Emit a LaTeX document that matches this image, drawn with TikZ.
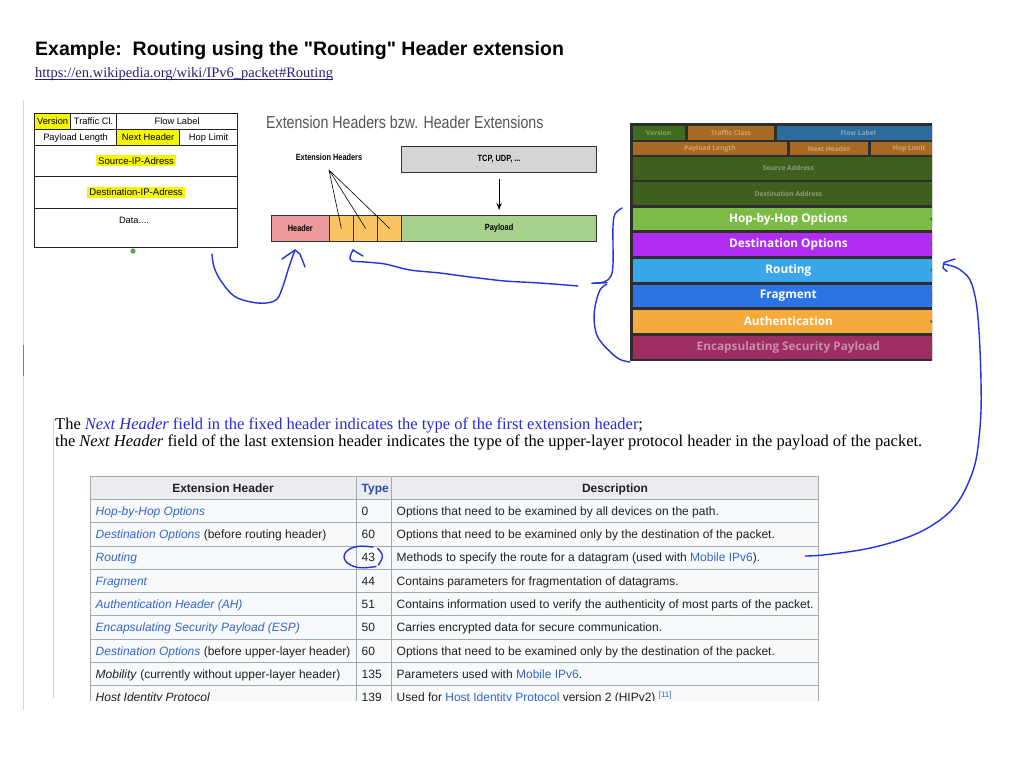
\documentclass[tikz,border=0pt]{standalone}
\usepackage{fontspec}
\setmainfont{Liberation Serif}
\setsansfont{Liberation Sans}
\newfontfamily\headfont{Liberation Sans}
\newfontfamily\narrowfont[FakeStretch=0.82]{Liberation Sans}
\newfontfamily\stackfont{Open Sans}
\usepackage{xcolor}
\usetikzlibrary{arrows.meta,calc}
\definecolor{penblue}{HTML}{2233DD}
\definecolor{urlnavy}{HTML}{25256E}
\definecolor{boxline}{HTML}{222222}
\definecolor{hlyellow}{HTML}{F6F600}
\definecolor{titlegray}{HTML}{555555}
\definecolor{segline}{HTML}{333333}
\definecolor{tcpgray}{HTML}{D5D5D5}
\definecolor{hdrpink}{HTML}{EE9A9A}
\definecolor{extorange}{HTML}{F8C463}
\definecolor{paygreen}{HTML}{A9D18E}
\definecolor{stackbg}{HTML}{2E2E2E}
\definecolor{vergreen}{HTML}{416C1F}
\definecolor{vertext}{HTML}{86A06A}
\definecolor{tcbrown}{HTML}{A86A23}
\definecolor{tctext}{HTML}{D2A46C}
\definecolor{flblue}{HTML}{2B6C9C}
\definecolor{fltext}{HTML}{80A8C8}
\definecolor{addrgreen}{HTML}{3F5F1F}
\definecolor{addrtext}{HTML}{8C9C74}
\definecolor{hbhgreen}{HTML}{7DBB47}
\definecolor{dopurple}{HTML}{B02CF2}
\definecolor{rtblue}{HTML}{3AA6EA}
\definecolor{frblue}{HTML}{2C74E4}
\definecolor{auorange}{HTML}{F7AA3C}
\definecolor{espmaroon}{HTML}{9C2E62}
\definecolor{esptext}{HTML}{C98DA8}
\definecolor{dotgreen}{HTML}{2E8B2E}
\definecolor{bodyblue}{HTML}{2A2AD4}
\definecolor{wikilink}{HTML}{3366CC}
\definecolor{typeblue}{HTML}{2A4FA8}
\definecolor{tblline}{HTML}{A2A9B1}
\definecolor{tblhead}{HTML}{EAECF0}
\definecolor{tblbody}{HTML}{F8F9FA}
\definecolor{tbltext}{HTML}{202122}
\definecolor{edgegray}{HTML}{D4D4D4}
\newcommand\fsz[1]{\fontsize{#1}{#1}\selectfont}
\newcommand\wl[1]{\textcolor{wikilink}{\textit{#1}}}
\newcommand\wu[1]{\textcolor{wikilink}{#1}}
\tikzset{every node/.append style={font=\sffamily}}

\begin{document}
\begin{tikzpicture}[x=1pt,y=-1pt,>=Stealth,
  fld/.style={draw=boxline,line width=1.2pt,anchor=north west,inner sep=0pt,font=\sffamily\fsz{9.3}},
  seg/.style={draw=segline,line width=1.2pt,anchor=north west,inner sep=0pt,minimum height=25.7,font=\narrowfont\bfseries\fsz{9}},
  stkfld/.style={anchor=north west,inner sep=0pt,font=\stackfont\bfseries\fsz{6.7}},
  stkrow/.style={anchor=north west,inner sep=0pt,minimum width=311,text=white,font=\stackfont\bfseries\fsz{11.8}},
  tbl/.style={inner sep=0pt,anchor=base west,text=tbltext,font=\sffamily\fsz{12}},
  tblhd/.style={inner sep=0pt,anchor=base,text=tbltext,font=\sffamily\bfseries\fsz{12}},
  pen/.style={draw=penblue,line width=1.4pt,line cap=round,line join=round},
  bodytext/.style={inner sep=0pt,anchor=base west,text=black,font=\rmfamily\fsz{16.5}}]
  \fill[white] (0,0) rectangle (1024,768);
  \useasboundingbox (0,0) rectangle (1024,768);
  \draw[edgegray,line width=0.8pt] (23.5,100) -- (23.5,710);
  \draw[gray,line width=0.8pt] (23.5,345) -- (23.5,376);
  \draw[edgegray,line width=0.8pt] (58,419) -- (53,419) -- (53,698);

  \node[anchor=base west,inner sep=0pt,font=\headfont\bfseries\fsz{19.5}] (title) at (35,56)
    {Example:\ \ Routing using the "Routing" Header extension};
  \node[anchor=base west,inner sep=0pt,text=urlnavy,font=\rmfamily\fsz{14.5}] (url) at (35,77.5)
    {https://en.wikipedia.org/wiki/IPv6\_packet\#Routing};
  \draw[urlnavy,line width=0.8pt] ($(url.base west)+(0,2)$) -- ($(url.base east)+(0,2)$);

  \node[fld,fill=hlyellow,minimum width=36,minimum height=16] (ver) at (34,113) {Version};
  \node[fld,minimum width=46,minimum height=16] (tcl) at (70,113) {Traffic Cl.};
  \node[fld,minimum width=121,minimum height=16] (flow) at (116,113) {Flow Label};
  \node[fld,minimum width=82,minimum height=16] (plen) at (34,129) {Payload Length};
  \node[fld,fill=hlyellow,minimum width=63,minimum height=16] (nxt) at (116,129) {Next Header};
  \node[fld,minimum width=58,minimum height=16] (hlim) at (179,129) {Hop Limit};
  \node[fld,minimum width=203,minimum height=30.5,font=\sffamily\fsz{9.6}] (src) at (34,145)
    {\setlength{\fboxsep}{2pt}\colorbox{hlyellow}{Source-IP-Adress}};
  \node[fld,minimum width=203,minimum height=32,font=\sffamily\fsz{9.6}] (dst) at (34,175.5)
    {\setlength{\fboxsep}{2pt}\colorbox{hlyellow}{Destination-IP-Adress}};
  \node[fld,minimum width=203,minimum height=39.5] (data) at (34,207.5) {};
  \node[font=\sffamily\fsz{9.3}] (datatxt) at (134,220) {Data....};
  \fill[dotgreen!80] (133,251) circle (2.6);

  \node[anchor=west,inner sep=0pt,text=titlegray,font=\narrowfont\fsz{17.3}] (exttitle) at (266,122)
    {Extension Headers bzw. Header Extensions};
  \node[font=\narrowfont\bfseries\fsz{9}] (extlbl) at (329,157) {Extension Headers};
  \node[seg,fill=tcpgray,minimum width=195] (tcp) at (401,146) {TCP, UDP, ...};
  \node[seg,fill=hdrpink,minimum width=57.5] (hdr) at (271,215) {Header};
  \node[seg,fill=extorange,minimum width=24.5] (ext1) at (328.5,215) {};
  \node[seg,fill=extorange,minimum width=24] (ext2) at (353,215) {};
  \node[seg,fill=extorange,minimum width=24] (ext3) at (377,215) {};
  \node[seg,fill=paygreen,minimum width=195] (pay) at (401,215) {Payload};
  \draw[->,line width=0.9pt,shorten <=6pt,shorten >=5pt] (tcp.south) -- (pay.north);
  \coordinate (fan) at (329,170);
  \foreach \e in {ext1,ext2,ext3}
    \draw[line width=0.6pt] (fan) -- (\e.center);

  \begin{scope}
    \clip (628,120) rectangle (932,364);
    \fill[stackbg] (630,123) rectangle (950,361);
    \node[stkfld,fill=vergreen,text=vertext,minimum width=51.6,minimum height=14.3] (sver) at (632.7,125.7) {Version};
    \node[stkfld,fill=tcbrown,text=tctext,minimum width=86.3,minimum height=14.3] (stc) at (687.7,125.7) {Traffic Class};
    \node[stkfld,fill=flblue,text=fltext,minimum width=162.6,minimum height=14.3] (sfl) at (776.7,125.7) {Flow Label};
    \node[stkfld,fill=tcbrown,text=tctext,minimum width=154,minimum height=13.3] (spl) at (632.7,141.7) {Payload Length};
    \node[stkfld,fill=tcbrown,text=tctext,minimum width=77.7,minimum height=13.3] (snh) at (790,141.7) {Next Header};
    \node[stkfld,fill=tcbrown,text=tctext,minimum width=76.6,minimum height=13.3] (shl) at (870.7,141.7) {Hop Limit};
    \node[stkfld,fill=addrgreen,text=addrtext,minimum width=311,minimum height=22.6] (ssrc) at (632.7,156.7) {Source Address};
    \node[stkfld,fill=addrgreen,text=addrtext,minimum width=311,minimum height=23.3] (sdst) at (632.7,181.7) {Destination Address};
    \node[stkrow,fill=hbhgreen,minimum height=22.3] (shbh) at (632.7,207.7) {Hop-by-Hop Options};
    \node[stkrow,fill=dopurple,minimum height=23.7] (sdo) at (632.7,232.3) {Destination Options};
    \node[stkrow,fill=rtblue,minimum height=23.4] (srt) at (632.7,258.3) {Routing};
    \node[stkrow,fill=frblue,minimum height=22.4] (sfr) at (632.7,284.3) {Fragment};
    \node[stkrow,fill=auorange,minimum height=22.7] (sau) at (632.7,310) {Authentication};
    \node[stkrow,fill=espmaroon,text=esptext,minimum height=22.6] (sesp) at (632.7,335.7) {Encapsulating Security Payload};
    \foreach \n in {shbh,sdo,srt,sfr,sau,sesp}
      \fill[dotgreen] (\n.center -| 931.5,0) circle (1.7);
  \end{scope}

  \node[bodytext] (line1) at (55,429)
    {The \textcolor{bodyblue}{\textit{Next Header} field in the fixed header indicates the type of the first extension header};};
  \node[bodytext] (line2) at (55,446.5)
    {the \textit{Next Header} field of the last extension header indicates the type of the upper-layer protocol header in the payload of the packet.};

  \begin{scope}
    \clip (85,470) rectangle (830,700);
    \fill[tblhead] (90,476) rectangle (818.3,499.3);
    \fill[tblbody] (90,499.3) rectangle (818.3,712);
    \foreach \i in {0,...,10}
      \draw[tblline,line width=0.8pt] (90,476+23.3*\i) -- (818.3,476+23.3*\i);
    \foreach \x in {90,356.7,391.7,818.3}
      \draw[tblline,line width=0.8pt] (\x,476) -- (\x,712);
    \node[tblhd] (thname) at (223,492.2) {Extension Header};
    \node[tblhd,anchor=base west,text=typeblue] (thtype) at (361.5,492.2) {Type};
    \node[tblhd] (thdesc) at (615,492.2) {Description};
    \foreach \nm/\ty/\ds [count=\i] in {
      {\wl{Hop-by-Hop Options}}/0/{Options that need to be examined by all devices on the path.},
      {\wl{Destination Options} (before routing header)}/60/{Options that need to be examined only by the destination of the packet.},
      {\wl{Routing}}/43/{Methods to specify the route for a datagram (used with \wu{Mobile IPv6}).},
      {\wl{Fragment}}/44/{Contains parameters for fragmentation of datagrams.},
      {\wl{Authentication Header (AH)}}/51/{Contains information used to verify the authenticity of most parts of the packet.},
      {\wl{Encapsulating Security Payload (ESP)}}/50/{Carries encrypted data for secure communication.},
      {\wl{Destination Options} (before upper-layer header)}/60/{Options that need to be examined only by the destination of the packet.},
      {\textit{Mobility} (currently without upper-layer header)}/135/{Parameters used with \wu{Mobile IPv6}.},
      {\textit{Host Identity Protocol}}/139/{Used for \wu{Host Identity Protocol} version 2 (HIPv2) \wu{\textsuperscript{[11]}}}} {
      \node[tbl] (tname\i) at (95.5,491.9+23.3*\i) {\nm};
      \node[tbl] (ttype\i) at (361.5,491.9+23.3*\i) {\ty};
      \node[tbl] (tdesc\i) at (396.5,491.9+23.3*\i) {\ds};
    }
  \end{scope}

  \coordinate (lbstart) at (212,254);
  \coordinate (hdrtip) at (295,250);
  \draw[pen] plot[smooth,tension=0.6] coordinates {(lbstart) (214,267) (221,281) (234,296) (251,302) (266,303) (277,299) (283,286) (289,267) (hdrtip)};
  \draw[pen] (282,259) -- (hdrtip) -- (300,254) -- (305,267);

  \coordinate (brmid) at (578,286);
  \coordinate (exttip) at (353,250);
  \draw[pen] plot[smooth,tension=0.5] coordinates {(brmid) (540,283) (505,281) (470,277) (440,273) (410,270) (385,264) (365,262) (352,261) (350,257) (exttip)};
  \draw[pen] (exttip) -- (363,256);

  \draw[pen] plot[smooth,tension=0.6] coordinates {(622,208) (615,214) (613,226) (613,246) (613,264) (611,276) (604,282) (592,283.3)};
  \draw[pen] (592,283.3) -- (607,282.7);
  \draw[pen] plot[smooth,tension=0.6] coordinates {(606.7,284.3) (600,290) (595,306.7) (594.3,323) (598.3,338) (610,351.7) (620,359.5) (630,362)};

  \coordinate (rtstart) at (805,556);
  \coordinate (srttip) at (944,264);
  \draw[pen] plot[smooth,tension=0.6] coordinates {(rtstart) (823,555) (860,550) (890,543) (918,533) (940,520) (955,506) (966,488) (975,464) (979,438) (981,410) (981,382) (980,350) (978,318) (975,296) (970,280) (963,272) (955,267) (srttip)};
  \draw[pen] (955,259) -- (944,262.5) -- (943,268) -- (947,271.5);

  \draw[pen] plot[smooth,tension=0.7] coordinates {(373,547) (357,546.5) (346,552) (345.5,561) (358,567.5) (376,566.5)};
  \draw[pen] plot[smooth,tension=0.7] coordinates {(377.5,548.3) (382.5,556) (378.3,565)};
\end{tikzpicture}
\end{document}
